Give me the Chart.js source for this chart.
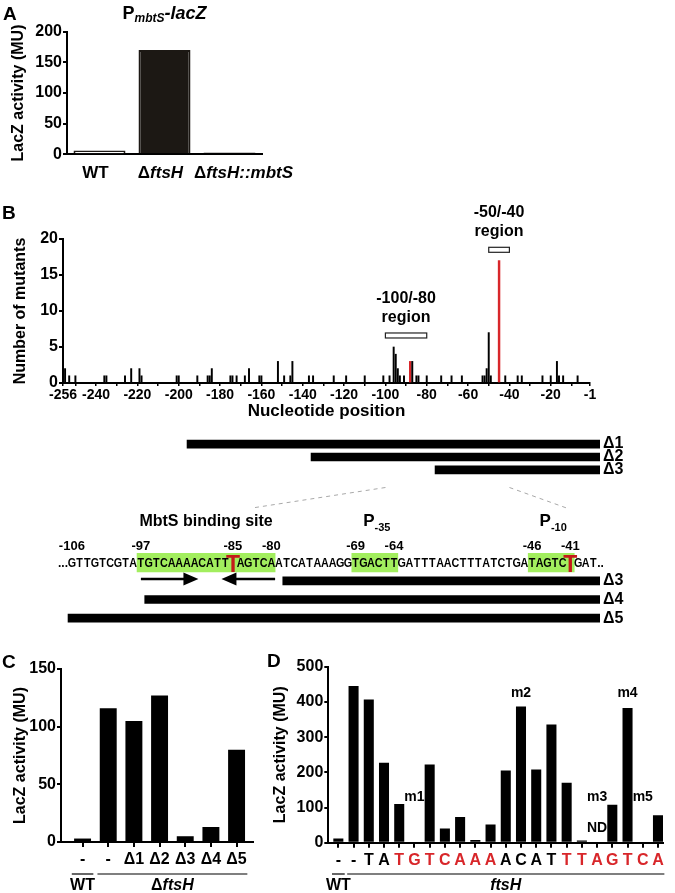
<!DOCTYPE html>
<html>
<head>
<meta charset="utf-8">
<script src="https://cdn.jsdelivr.net/npm/chart.js@4.4.1/dist/chart.umd.min.js"></script>
<style>
  body { margin: 0; background: #fff; }
  #wrap { position: relative; width: 675px; height: 893px; overflow: hidden; background: #fff; }
  #wrap canvas { position: absolute; }
</style>
</head>
<body>
<div id="wrap">
  <canvas id="chartA" width="300" height="190" style="left:0;top:0"></canvas>
  <canvas id="chartB" width="600" height="230" style="left:0;top:190px"></canvas>
  <canvas id="delUp" width="675" height="64" style="left:0;top:425px"></canvas>
  <canvas id="delLow" width="675" height="160" style="left:0;top:480px"></canvas>
  <canvas id="chartC" width="265" height="243" style="left:0;top:650px"></canvas>
  <canvas id="chartD" width="420" height="243" style="left:255px;top:650px"></canvas>
</div>
<script>
// ---- Panel A: PmbtS-lacZ activity
const labelsA = ['WT', 'ΔftsH', 'ΔftsH::mbtS'];
const valuesA = [6, 170, 3];

// ---- Panel B: mutants per nucleotide position
const mutPos = [-256, -255, -253, -250, -236, -235, -226, -223, -219, -218, -201, -200, -191, -186, -185, -184,
  -175, -174, -172, -168, -166, -161, -160, -152, -149, -146, -145, -137, -135, -125, -119, -110,
  -101, -98, -96, -95, -94, -93, -91, -87, -85, -84, -80, -73, -68, -63, -53, -52, -51, -50, -49,
  -42, -36, -34, -24, -20, -17, -16, -14, -7];
const mutCount = [2, 2, 1, 1, 1, 1, 1, 2, 2, 1, 1, 1, 1, 1, 1, 2,
  1, 1, 1, 1, 2, 1, 1, 3, 1, 1, 3, 1, 1, 1, 1, 1,
  1, 1, 5, 4, 2, 1, 1, 3, 1, 1, 1, 1, 1, 1, 1, 1, 2, 7, 1,
  1, 1, 1, 1, 1, 3, 1, 1, 1];
const hotPos = [-88, -45];
const hotCount = [3, 17];
const regionFrom = [-100, -50];
const regionTo = [-80, -40];
const regionLevel = [6.6, 18.5];
const regionText = [['-100/-80', 'region'], ['-50/-40', 'region']];
const tickLabelsB = [-256, -240, -220, -200, -180, -160, -140, -120, -100, -80, -60, -40, -20, -1];
const minorTicksB = [-250, -230, -210, -190, -170, -150, -130, -110, -90, -70, -50, -30, -10];

// ---- Deletion constructs (upper, on panel B positions)
const delUpLabels = ['Δ1', 'Δ2', 'Δ3'];
const delUpStart = [-196, -136, -76];
const delUpEnd = 4;

// ---- Promoter sequence and lower deletion constructs
const seqStart = -106;
const seqText = 'GTTGTCGTATGTCAAAACATTTAGTCAATCATAAAGGTGACTTGATTTAACTTTATCTGATAGTCTGAT';
const seqMarked = [-85, -41];
const boxFrom = [-97, -69, -46];
const boxTo = [-80, -64, -41];
const posLabels = [-106, -97, -85, -80, -69, -64, -46, -41];
const arrowFrom = [-97, -79.5];
const arrowTo = [-89.5, -86.5];
const connUp = [-100, -40];
const connLow = [-82.5, -41.5];
const rowsLow = ['seq', 'Δ3', 'Δ4', 'Δ5'];
const delLowLabels = ['Δ3', 'Δ4', 'Δ5'];
const delLowStart = [-78, -96, -106];
const delLowEnd = -37;

// ---- Panel C
const catsC = ['-', '-', 'Δ1', 'Δ2', 'Δ3', 'Δ4', 'Δ5'];
const valuesC = [3, 116, 105, 127, 5, 13, 80];
const groupNamesC = ['WT', 'ΔftsH'];
const groupFirstC = [0, 1];
const groupLastC = [0, 6];

// ---- Panel D
const catsD = ['-', '-', 'T', 'A', 'T', 'G', 'T', 'C', 'A', 'A', 'A', 'A', 'C', 'A', 'T', 'T', 'T', 'A', 'G', 'T', 'C', 'A'];
const valuesD = [12, 445, 407, 227, 110, 0, 222, 40, 73, 8, 52, 205, 387, 208, 336, 170, 6, 0, 108, 383, 0, 78];
const redD = [0, 0, 0, 0, 1, 1, 1, 1, 1, 1, 1, 0, 0, 0, 0, 1, 1, 1, 1, 1, 1, 1];
const noteText = ['m1', 'm2', 'm3', 'm4', 'm5', 'ND'];
const noteIndex = [5, 12, 17, 19, 20, 17];
const noteLevel = [130, 425, 130, 425, 130, 42];
const groupNamesD = ['WT', 'ftsH'];
const groupFirstD = [0, 1];
const groupLastD = [0, 21];

const FF = "'Liberation Sans', Arial, Helvetica, sans-serif";
const RED = '#d8262a';
const INK = '#000';

Chart.defaults.font.family = FF;
Chart.defaults.font.weight = 'bold';
Chart.defaults.color = INK;
Chart.defaults.animation = false;
Chart.defaults.responsive = false;
Chart.defaults.devicePixelRatio = 1;
Chart.defaults.plugins.legend.display = false;
Chart.defaults.plugins.tooltip.enabled = false;

function font(size, italic) {
    return (italic ? 'italic ' : '') + 'bold ' + size + 'px ' + FF;
}

// split a label into upright / italic pieces (gene names are italic, Δ is not)
function richParts(str, size) {
    if (str.startsWith('Δ') && /[a-z]/.test(str)) {
        return [{ t: 'Δ', size: size }, { t: str.slice(1), size: size, it: true }];
    }
    if (/^[a-z]/.test(str)) return [{ t: str, size: size, it: true }];
    return [{ t: str, size: size }];
}

function drawRich(ctx, parts, x, y, color) {
    ctx.save();
    ctx.fillStyle = color || INK;
    ctx.textBaseline = 'middle';
    ctx.textAlign = 'left';
    let w = 0;
    parts.forEach(p => { ctx.font = font(p.size, p.it); w += ctx.measureText(p.t).width; });
    let cx = x - w / 2;
    parts.forEach(p => {
        ctx.font = font(p.size, p.it);
        ctx.fillText(p.t, cx, y + (p.dy || 0));
        cx += ctx.measureText(p.t).width;
    });
    ctx.restore();
}

// panel letters and free text, per chart
const decorPlugin = {
    id: 'decor',
    afterDraw(chart, args, opts) {
        const ctx = chart.ctx;
        if (opts.letter) {
            ctx.save();
            ctx.font = font(19);
            ctx.fillStyle = INK;
            ctx.textBaseline = 'middle';
            ctx.fillText(opts.letter[0], opts.letter[1], opts.letter[2]);
            ctx.restore();
        }
        if (opts.draw) opts.draw(chart, ctx);
    }
};

// group underline (WT / ftsH) below category axis
function drawGroups(chart, ctx, names, first, last, lineY, textY) {
    const x = chart.scales.x;
    names.forEach((name, i) => {
        const x0 = x.getPixelForValue(first[i] - 0.42);
        const x1 = x.getPixelForValue(last[i] + 0.42);
        ctx.save();
        ctx.strokeStyle = INK;
        ctx.lineWidth = 1.2;
        ctx.beginPath();
        ctx.moveTo(x0, lineY);
        ctx.lineTo(x1, lineY);
        ctx.stroke();
        ctx.restore();
        drawRich(ctx, richParts(name, 16), (x0 + x1) / 2, textY);
    });
}

function yAxis(min, max, step, width, titlePad) {
    return {
        min: min, max: max,
        ticks: { stepSize: step, font: { size: 16, weight: 'bold' }, color: INK, padding: 1 },
        grid: { drawOnChartArea: false, color: INK, lineWidth: 2, tickLength: 4 },
        border: { color: INK, width: 2 },
        title: { display: true, text: 'LacZ activity (MU)', color: INK, font: { size: 16, weight: 'bold' }, padding: { top: titlePad, bottom: 0 } },
        afterFit: s => { s.width = width; }
    };
}

// ================= Panel A
new Chart(document.getElementById('chartA'), {
    type: 'bar',
    data: {
        labels: labelsA,
        datasets: [{
            data: valuesA,
            backgroundColor: ['#fff', '#1c1814', '#1c1814'],
            borderColor: '#1c1814',
            borderWidth: 2,
            barPercentage: 0.8,
            categoryPercentage: 1
        }]
    },
    options: {
        layout: { padding: { top: 31.7, right: 38, left: 0, bottom: 0 } },
        scales: {
            x: {
                grid: { display: false },
                border: { color: INK, width: 2 },
                ticks: { display: false },
                afterFit: s => { s.height = 35.7; }
            },
            y: yAxis(0, 200, 50, 67, 9)
        },
        plugins: {
            decor: {
                letter: ['A', 3, 15],
                draw(chart, ctx) {
                    const x = chart.scales.x;
                    labelsA.forEach((l, i) => drawRich(ctx, richParts(l, 17), x.getPixelForValue(i) + (i === 2 ? 14 : -4), 173));
                    drawRich(ctx, [
                        { t: 'P', size: 18 },
                        { t: 'mbtS', size: 12, it: true, dy: 5 },
                        { t: '-lacZ', size: 18, it: true }
                    ], (chart.chartArea.left + chart.chartArea.right) / 2, 14);
                }
            }
        }
    },
    plugins: [decorPlugin]
});

// ================= Panel B
new Chart(document.getElementById('chartB'), {
    type: 'bar',
    data: {
        datasets: [{
            data: mutPos.map((p, i) => ({ x: p, y: mutCount[i] })),
            backgroundColor: INK,
            barThickness: 1.3,
            grouped: false
        }, {
            data: hotPos.map((p, i) => ({ x: p, y: hotCount[i] })),
            backgroundColor: RED,
            barThickness: 1.8,
            grouped: false
        }]
    },
    options: {
        layout: { padding: { top: 49, right: 10, left: 0, bottom: 0 } },
        scales: {
            x: {
                type: 'linear', min: -256, max: -1, offset: false,
                afterBuildTicks: s => {
                    s.ticks = tickLabelsB.concat(minorTicksB).sort((a, b) => a - b).map(v => ({ value: v }));
                },
                ticks: {
                    autoSkip: false, maxRotation: 0, padding: 1,
                    font: { size: 14, weight: 'bold' }, color: INK,
                    callback: v => tickLabelsB.includes(v) ? String(v) : ''
                },
                grid: { drawOnChartArea: false, offset: false, color: INK, lineWidth: 1.5, tickLength: 3 },
                border: { color: INK, width: 2 },
                title: { display: true, text: 'Nucleotide position', color: INK, font: { size: 17, weight: 'bold', lineHeight: 1 }, padding: 0 },
                afterFit: s => { s.height = 37; }
            },
            y: {
                min: 0, max: 20,
                ticks: { stepSize: 5, font: { size: 16, weight: 'bold' }, color: INK, padding: 1 },
                grid: { drawOnChartArea: false, color: INK, lineWidth: 2, tickLength: 4 },
                border: { color: INK, width: 2 },
                title: { display: true, text: 'Number of mutants', color: INK, font: { size: 16, weight: 'bold' }, padding: { top: 11, bottom: 0 } },
                afterFit: s => { s.width = 63; }
            }
        },
        plugins: {
            decor: {
                letter: ['B', 2, 24],
                draw(chart, ctx) {
                    const { x, y } = chart.scales;
                    regionFrom.forEach((from, i) => {
                        const x0 = x.getPixelForValue(from);
                        const x1 = x.getPixelForValue(regionTo[i]);
                        const yc = y.getPixelForValue(regionLevel[i]);
                        ctx.save();
                        ctx.fillStyle = '#fff';
                        ctx.strokeStyle = '#222';
                        ctx.lineWidth = 1.2;
                        ctx.fillRect(x0, yc - 2.5, x1 - x0, 5);
                        ctx.strokeRect(x0, yc - 2.5, x1 - x0, 5);
                        ctx.restore();
                        const xc = (x0 + x1) / 2;
                        drawRich(ctx, [{ t: regionText[i][0], size: 16 }], xc, yc - 37);
                        drawRich(ctx, [{ t: regionText[i][1], size: 16 }], xc, yc - 18);
                    });
                }
            }
        }
    },
    plugins: [decorPlugin]
});

// ================= Deletion constructs on the promoter map
const delUp = new Chart(document.getElementById('delUp'), {
    type: 'bar',
    data: {
        labels: delUpLabels,
        datasets: [{
            data: delUpStart.map(s => [s, delUpEnd]),
            backgroundColor: INK,
            barThickness: 8
        }]
    },
    options: {
        indexAxis: 'y',
        layout: { padding: { top: 2, bottom: 2, left: 0, right: 0 } },
        scales: {
            x: { type: 'linear', display: false, min: -286.5, max: 3.8 },
            y: {
                position: 'right',
                grid: { display: false, drawTicks: false },
                border: { display: false },
                ticks: { autoSkip: false, color: INK, font: { size: 16, weight: 'bold' }, padding: 3 },
                afterFit: s => { s.width = 75; }
            }
        }
    }
});

new Chart(document.getElementById('delLow'), {
    type: 'bar',
    data: {
        labels: rowsLow,
        datasets: [{
            data: boxFrom.map((f, i) => ({ x: [f - 0.5, boxTo[i] + 0.5], y: 'seq' })),
            backgroundColor: '#a2ee5e',
            barThickness: 19,
            grouped: false
        }, {
            data: delLowStart.map((s, i) => ({ x: [s - 0.5, delLowEnd], y: delLowLabels[i] })),
            backgroundColor: INK,
            barThickness: 8,
            grouped: false
        }]
    },
    options: {
        indexAxis: 'y',
        layout: { padding: { top: 73, bottom: 7, left: 0, right: 0 } },
        scales: {
            x: { type: 'linear', display: false, min: -115.37, max: -37.14 },
            y: {
                position: 'right',
                grid: { display: false, drawTicks: false },
                border: { display: false },
                ticks: { autoSkip: false, color: INK, font: { size: 16, weight: 'bold' }, padding: 3, callback: (v, i) => i === 0 ? '' : rowsLow[i] },
                afterFit: s => { s.width = 75; }
            }
        },
        plugins: {
            decor: {
                draw(chart, ctx) {
                    const { x, y } = chart.scales;
                    const rowY = y.getPixelForValue(0);
                    // dashed connectors from the upper map
                    ctx.save();
                    ctx.strokeStyle = '#a8a8a8';
                    ctx.lineWidth = 1;
                    ctx.setLineDash([4, 4]);
                    connUp.forEach((u, i) => {
                        ctx.beginPath();
                        ctx.moveTo(delUp.scales.x.getPixelForValue(u), 7.5);
                        ctx.lineTo(x.getPixelForValue(connLow[i]), 28);
                        ctx.stroke();
                    });
                    ctx.restore();
                    // nucleotides
                    for (let i = 0; i < seqText.length; i++) {
                        const p = seqStart + i;
                        const big = seqMarked.includes(p);
                        ctx.save();
                        ctx.translate(x.getPixelForValue(p), big ? rowY + 10 : rowY + 4.5);
                        ctx.scale(big ? 1 : 0.86, 1);
                        ctx.font = big ? font(23) : font(12.5);
                        ctx.fillStyle = big ? '#c41a1a' : INK;
                        ctx.textAlign = 'center';
                        ctx.fillText(seqText[i], 0, 0);
                        ctx.restore();
                    }
                    ctx.save();
                    ctx.font = font(12);
                    ctx.fillStyle = INK;
                    ctx.textAlign = 'right';
                    ctx.fillText('...', x.getPixelForValue(seqStart - 0.5), rowY + 4.5);
                    ctx.textAlign = 'left';
                    ctx.fillText('..', x.getPixelForValue(seqStart + seqText.length - 0.5), rowY + 4.5);
                    // position numbers
                    ctx.font = font(13);
                    ctx.textAlign = 'center';
                    posLabels.forEach(p => ctx.fillText(String(p), x.getPixelForValue(p), rowY - 12.5));
                    ctx.restore();
                    // element titles
                    const c0 = (x.getPixelForValue(boxFrom[0]) + x.getPixelForValue(boxTo[0])) / 2;
                    drawRich(ctx, [{ t: 'MbtS binding site', size: 16 }], c0, rowY - 41);
                    ['-35', '-10'].forEach((sub, k) => {
                        const c = (x.getPixelForValue(boxFrom[k + 1]) + x.getPixelForValue(boxTo[k + 1])) / 2;
                        drawRich(ctx, [{ t: 'P', size: 17 }, { t: sub, size: 11, dy: 7 }], c + 2, rowY - 41);
                    });
                    // inverted repeat arrows
                    const ay = y.getPixelForValue(1) - 2;
                    ctx.save();
                    ctx.fillStyle = INK;
                    ctx.strokeStyle = INK;
                    ctx.lineWidth = 2.5;
                    arrowFrom.forEach((f, i) => {
                        const xa = x.getPixelForValue(f);
                        const xb = x.getPixelForValue(arrowTo[i]);
                        const dir = Math.sign(xb - xa);
                        ctx.beginPath();
                        ctx.moveTo(xa, ay);
                        ctx.lineTo(xb - dir * 12, ay);
                        ctx.stroke();
                        ctx.beginPath();
                        ctx.moveTo(xb, ay);
                        ctx.lineTo(xb - dir * 15, ay - 6.5);
                        ctx.lineTo(xb - dir * 15, ay + 6.5);
                        ctx.closePath();
                        ctx.fill();
                    });
                    ctx.restore();
                }
            }
        }
    },
    plugins: [decorPlugin]
});

// ================= Panel C
new Chart(document.getElementById('chartC'), {
    type: 'bar',
    data: {
        datasets: [{
            data: valuesC.map((v, i) => ({ x: i, y: v })),
            backgroundColor: INK,
            barPercentage: 0.66,
            categoryPercentage: 1
        }]
    },
    options: {
        layout: { padding: { top: 19, right: 12, left: 0, bottom: 0 } },
        scales: {
            x: {
                type: 'linear', min: -0.84, max: 6.64, offset: false,
                afterBuildTicks: s => { s.ticks = catsC.map((c, i) => ({ value: i })); },
                ticks: { autoSkip: false, maxRotation: 0, padding: 3, font: { size: 16, weight: 'bold' }, color: INK, callback: v => catsC[v] },
                grid: { drawOnChartArea: false, offset: false, color: INK, lineWidth: 2, tickLength: 5 },
                border: { color: INK, width: 2 },
                afterFit: s => { s.height = 51; }
            },
            y: yAxis(0, 150, 50, 61, 11)
        },
        plugins: {
            decor: {
                letter: ['C', 2, 13],
                draw(chart, ctx) { drawGroups(chart, ctx, groupNamesC, groupFirstC, groupLastC, 224, 236); }
            }
        }
    },
    plugins: [decorPlugin]
});

// ================= Panel D
new Chart(document.getElementById('chartD'), {
    type: 'bar',
    data: {
        datasets: [{
            data: valuesD.map((v, i) => ({ x: i, y: v })),
            backgroundColor: INK,
            barPercentage: 0.66,
            categoryPercentage: 1
        }]
    },
    options: {
        layout: { padding: { top: 16.7, right: 12, left: 0, bottom: 0 } },
        scales: {
            x: {
                type: 'linear', min: -0.66, max: 21.33, offset: false,
                afterBuildTicks: s => { s.ticks = catsD.map((c, i) => ({ value: i })); },
                ticks: {
                    autoSkip: false, maxRotation: 0, padding: 3,
                    font: { size: 16, weight: 'bold' },
                    color: c => redD[c.index] ? RED : INK,
                    callback: v => catsD[v]
                },
                grid: { drawOnChartArea: false, offset: false, color: INK, lineWidth: 2, tickLength: 5 },
                border: { color: INK, width: 2 },
                afterFit: s => { s.height = 50.3; }
            },
            y: yAxis(0, 500, 100, 73.3, 16)
        },
        plugins: {
            decor: {
                letter: ['D', 12, 12],
                draw(chart, ctx) {
                    const { x, y } = chart.scales;
                    noteText.forEach((t, i) => {
                        drawRich(ctx, [{ t: t, size: 14 }], x.getPixelForValue(noteIndex[i]), y.getPixelForValue(noteLevel[i]));
                    });
                    drawGroups(chart, ctx, groupNamesD, groupFirstD, groupLastD, 224, 236);
                }
            }
        }
    },
    plugins: [decorPlugin]
});
</script>
</body>
</html>
